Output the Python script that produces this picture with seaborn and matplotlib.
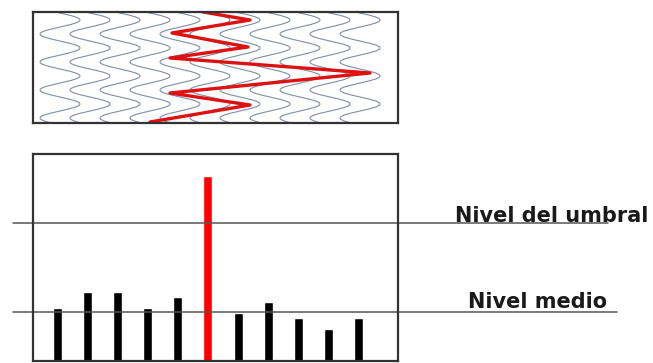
import numpy as np
import pandas as pd
import matplotlib
matplotlib.use("Agg")
import matplotlib.pyplot as plt
import seaborn as sns

# Datos del esquema (unidades en pixeles del dibujo original)
# Panel superior: ondas portadoras (azul) y senal detectada (rojo)
centros_ondas = [27, 57, 87, 117, 147, 177, 207, 237, 267, 297, 327]
amplitud_onda = 20
periodo_onda = 28
fase_onda = 8

rojo_x = [170, 217, 139, 215, 137, 337, 137, 217, 117]
rojo_y = [0, 8, 21, 35, 46, 61, 81, 93, 110]

# Panel inferior: barras y niveles
posiciones = ["1", "2", "3", "4", "5", "6", "7", "8", "9", "10", "11"]
valores = [53, 69, 69, 53, 64, 185, 48, 59, 43, 32, 43]
tipos = ["normal"] * 5 + ["pico"] + ["normal"] * 5
nivel_umbral = 138
nivel_medio = 49

sns.set_style("white")
plt.rcParams['font.family'] = ['DejaVu Sans']

fig = plt.figure(figsize=(6.53, 3.63), dpi=100)
W, H = 653, 363
ax1 = fig.add_axes([33 / W, (H - 123) / H, 365 / W, 111 / H])
ax2 = fig.add_axes([33 / W, (H - 361) / H, 365 / W, 207 / H])

# Ondas azules
yy = np.linspace(-10, 121, 400)
filas = []
for i, c in enumerate(centros_ondas):
    xx = c + amplitud_onda * np.cos(2 * np.pi * (yy - fase_onda) / periodo_onda)
    filas.append(pd.DataFrame({'x': xx, 'y': yy, 'onda': i}))
ondas = pd.concat(filas, ignore_index=True)
sns.lineplot(data=ondas, x='x', y='y', units='onda', estimator=None, sort=False,
             color='#7f8ea3', linewidth=0.8, ax=ax1)

rojo = pd.DataFrame({'x': rojo_x, 'y': rojo_y})
sns.lineplot(data=rojo, x='x', y='y', estimator=None, sort=False, color='#dd1111',
             linewidth=2.4, ax=ax1, solid_joinstyle='round', solid_capstyle='round')

ax1.set_xlim(0, 365)
ax1.set_ylim(111, 0)

# Barras
df = pd.DataFrame({'pos': posiciones, 'valor': valores, 'tipo': tipos})
sns.barplot(data=df, x='pos', y='valor', hue='tipo',
            palette={'normal': 'black', 'pico': '#ff0000'}, saturation=1,
            dodge=False, width=0.3, legend=False, ax=ax2)
ax2.set_xlim(-0.8, 11.3)
ax2.set_ylim(0, 207)

ax2.axhline(nivel_umbral, xmin=-0.055, xmax=1.575, color='#555555', lw=1.1, clip_on=False)
ax2.axhline(nivel_medio, xmin=-0.055, xmax=1.6, color='#555555', lw=1.1, clip_on=False)

tr = ax2.get_yaxis_transform()
ax2.text(1.156, nivel_umbral + 1.5, "Nivel del umbral", transform=tr, ha='left',
         va='baseline', fontsize=15, fontweight='bold', color='#1a1a1a')
ax2.text(1.192, nivel_medio + 4, "Nivel medio", transform=tr, ha='left',
         va='baseline', fontsize=15, fontweight='bold', color='#1a1a1a')

for ax in (ax1, ax2):
    ax.set_xlabel('')
    ax.set_ylabel('')
    ax.set_xticks([])
    ax.set_yticks([])
    for s in ax.spines.values():
        s.set_visible(True)
        s.set_color('#333333')
        s.set_linewidth(1.6)

fig.savefig('out.png', dpi=100)
